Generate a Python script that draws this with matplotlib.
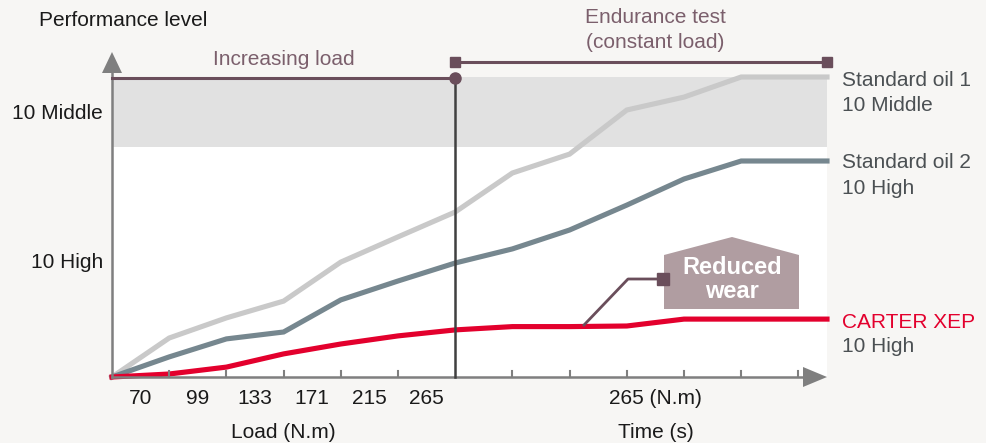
import matplotlib
matplotlib.use("Agg")
import matplotlib.pyplot as plt
from matplotlib.patches import Rectangle, Polygon
import numpy as np

plt.rcParams['font.family'] = ['Liberation Sans', 'DejaVu Sans']

# ---------------- data ----------------
x_pos = [0, 1, 2, 3, 4, 5, 6, 7, 8, 9, 10, 11, 12.5]
std_oil_1 = [0, 13, 19.7, 25.3, 38.3, 46.7, 55, 68, 74.3, 89, 93.3, 100, 100]
std_oil_2 = [0, 6.7, 12.7, 15, 25.7, 32, 38, 42.7, 49, 57.3, 66, 72, 72]
carter_xep = [0, 1, 3.3, 7.7, 11, 13.7, 15.7, 16.8, 16.8, 17, 19.3, 19.3, 19.3]

load_labels = ["70", "99", "133", "171", "215", "265"]
time_label = "265 (N.m)"
y_tick_vals = [38, 87.7]
y_tick_labels = ["10 High", "10 Middle"]
band = (76.7, 100)

series_labels = [("Standard oil 1", "10 Middle"),
                 ("Standard oil 2", "10 High"),
                 ("CARTER XEP", "10 High")]

# ---------------- style ----------------
BG = "#f7f6f4"
C1 = "#c9c9c9"
C2 = "#76878f"
C3 = "#e3002d"
MAUVE = "#6a4e5b"
MAUVE_TXT = "#7b5f6c"
AXIS = "#7f7f7f"
TXT = "#1a1a1a"
TXT2 = "#4b5053"
FS = 15

W, H = 986, 443
fig = plt.figure(figsize=(W / 100, H / 100), dpi=100, facecolor=BG)
x0px, x1px = 112, 827
y0px, y1px = 377, 52
ax = fig.add_axes([x0px / W, (H - y0px) / H, (x1px - x0px) / W, (y0px - y1px) / H])
ax.set_xlim(0, 12.5)
ax.set_ylim(0, (y0px - y1px) / 3)
ax.axis('off')
ax.set_facecolor('none')

# plot background & band
ax.add_patch(Rectangle((0, 0), 12.5, band[1], facecolor='white', edgecolor='none', zorder=0))
ax.add_patch(Rectangle((0, band[0]), 12.5, band[1] - band[0], facecolor='#e1e1e1',
                       edgecolor='none', zorder=0.5))

# series
lw = 3.7
ax.plot(x_pos, std_oil_1, color=C1, lw=lw, solid_joinstyle='miter', zorder=3, clip_on=False)
ax.plot(x_pos, std_oil_2, color=C2, lw=lw, solid_joinstyle='miter', zorder=3, clip_on=False)
ax.plot(x_pos, carter_xep, color=C3, lw=lw, solid_joinstyle='miter', zorder=4, clip_on=False)

# axes with arrows
ymax = (y0px - y1px) / 3
ax.plot([0, 0], [0, ymax - 5], color=AXIS, lw=1.8, zorder=5, clip_on=False)
ax.add_patch(Polygon([[0, ymax], [-10 / 57.2, ymax - 21 / 3], [10 / 57.2, ymax - 21 / 3]],
                     closed=True, facecolor=AXIS, edgecolor='none', zorder=5, clip_on=False))
ax.plot([0, 12.5 - 0.3], [0, 0], color=AXIS, lw=1.8, zorder=5, clip_on=False)
ax.add_patch(Polygon([[12.5, 0], [12.5 - 24 / 57.2, 10 / 3], [12.5 - 24 / 57.2, -10 / 3]],
                     closed=True, facecolor=AXIS, edgecolor='none', zorder=5, clip_on=False))
for t in [1, 2, 3, 4, 5, 7, 8, 9, 10, 11, 12]:
    ax.plot([t, t], [0, 6 / 3], color=AXIS, lw=1.5, zorder=5, clip_on=False)

# vertical separator
ax.plot([6, 6], [0, 99.7], color="#404040", lw=1.8, zorder=6, clip_on=False)

# brackets
yb1 = 99.7
ax.plot([0, 6], [yb1, yb1], color=MAUVE, lw=2.2, zorder=7, clip_on=False)
ax.plot([6], [yb1], 'o', color=MAUVE, ms=8, zorder=7, clip_on=False)
ax.text(3.0, (377 - 60) / 3, "Increasing load", color=MAUVE_TXT, fontsize=FS,
        ha='center', va='center')
yb2 = (y0px - 61.7) / 3
ax.plot([6, 12.5], [yb2, yb2], color=MAUVE, lw=2.2, zorder=7, clip_on=False)
ax.plot([6, 12.5], [yb2, yb2], 's', color=MAUVE, ms=7.5, zorder=7, clip_on=False)
ax.text(9.5, (377 - 18) / 3, "Endurance test", color=MAUVE_TXT, fontsize=FS,
        ha='center', va='center', clip_on=False)
ax.text(9.5, (377 - 43) / 3, "(constant load)", color=MAUVE_TXT, fontsize=FS,
        ha='center', va='center', clip_on=False)

# y tick labels
for v, lab in zip(y_tick_vals, y_tick_labels):
    ax.text(-9 / 57.2, v, lab, color=TXT, fontsize=FS, ha='right', va='center')
fig.text(39 / W, (H - 21) / H, "Performance level", color=TXT, fontsize=FS, ha='left', va='center')

# x tick labels
for i, lab in enumerate(load_labels):
    ax.text(i + 0.5, -21 / 3, lab, color=TXT, fontsize=FS, ha='center', va='center')
ax.text(9.5, -21 / 3, time_label, color=TXT, fontsize=FS, ha='center', va='center')
ax.text(3.0, -55 / 3, "Load (N.m)", color=TXT, fontsize=FS, ha='center', va='center')
ax.text(9.5, -55 / 3, "Time (s)", color=TXT, fontsize=FS, ha='center', va='center')

# right-side series labels
xl = 12.5 + 15 / 57.2
label_y = [(377 - 81) / 3, (377 - 163) / 3, (377 - 322) / 3]
label_col = [TXT2, TXT2, C3]
for (l1, l2), yy, c in zip(series_labels, label_y, label_col):
    ax.text(xl, yy, l1, color=c, fontsize=FS, ha='left', va='center', clip_on=False)
    ax.text(xl, yy - 25 / 3, l2, color=TXT2, fontsize=FS, ha='left', va='center', clip_on=False)

# "Reduced wear" callout
def P(px, py):
    return [(px - 112) / 57.2, (377 - py) / 3]

house = [P(664, 309), P(799, 309), P(799, 255), P(732, 237), P(664, 255)]
ax.add_patch(Polygon(house, closed=True, facecolor="#b09da1", edgecolor='none', zorder=8))
ax.text(*P(732, 267), "Reduced", color='white', fontsize=17, fontweight='bold',
        ha='center', va='center', zorder=9)
ax.text(*P(732, 292), "wear", color='white', fontsize=17, fontweight='bold',
        ha='center', va='center', zorder=9)
lead = [P(584, 325), P(628, 279), P(660, 279)]
ax.plot([p[0] for p in lead], [p[1] for p in lead], color=MAUVE, lw=2, zorder=9)
ax.plot([P(663, 279)[0]], [P(663, 279)[1]], 's', color=MAUVE, ms=9, zorder=9)

fig.savefig("out.png", dpi=100, facecolor=BG)
